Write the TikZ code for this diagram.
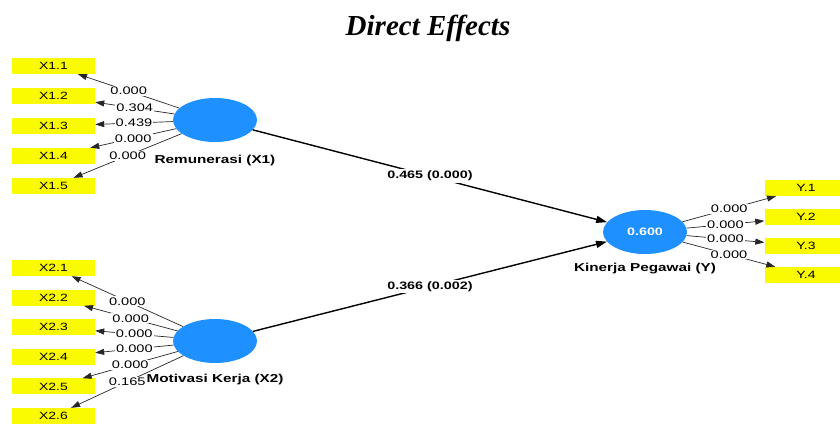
\documentclass[tikz,border=0pt]{standalone}
\usepackage{fontspec}
\usepackage{tikz}
\usetikzlibrary{arrows.meta, positioning, shapes.geometric}
\newfontfamily\plsfont[FakeStretch=1.33]{Liberation Sans}
\newfontfamily\titlefont{Liberation Serif}
\definecolor{plsblue}{RGB}{30, 144, 255}
\definecolor{plsyellow}{RGB}{250, 250, 0}

\begin{document}
\begin{tikzpicture}[x=1pt, y=-1pt]
\tikzstyle{indicator} = [rectangle, fill=plsyellow, minimum width=83pt, minimum height=16pt, inner sep=0pt, font=\plsfont\fontsize{10.5}{11}\selectfont]
\tikzstyle{latent} = [ellipse, fill=plsblue, minimum width=84pt, minimum height=44pt, inner sep=0pt]
\tikzstyle{lvname} = [font=\plsfont\bfseries\fontsize{11.5}{13}\selectfont, inner sep=1pt]
\tikzstyle{load} = [line width=0.7pt, draw=black!85, -{Triangle[length=9pt, width=6pt]}]
\tikzstyle{path} = [line width=1.4pt, -{Triangle[length=11pt, width=7pt]}]
\tikzstyle{loadval} = [fill=white, inner sep=1pt, font=\plsfont\fontsize{11}{12}\selectfont]
\tikzstyle{pathval} = [fill=white, inner sep=1.5pt, font=\plsfont\bfseries\fontsize{10.8}{12}\selectfont]

\useasboundingbox (0,0) rectangle (840,423);

% title
\node (title) at (428,28) {\titlefont\bfseries\itshape\fontsize{29}{33}\selectfont Direct Effects};

% latent variables
\node (x1) [latent, label={[lvname, label distance=12pt]below:Remunerasi (X1)}] at (215,120) {};
\node (x2) [latent, label={[lvname, label distance=10pt]below:Motivasi Kerja (X2)}] at (215,341) {};
\node (y) [latent, label={[lvname, label distance=8pt]below:Kinerja Pegawai (Y)}] at (645,232)
  {\plsfont\bfseries\fontsize{10.8}{12}\selectfont\color{white}0.600};

% indicators X1
\node (x11) [indicator] at (53.5,66) {X1.1};
\node (x12) [indicator] at (53.5,96) {X1.2};
\node (x13) [indicator] at (53.5,126) {X1.3};
\node (x14) [indicator] at (53.5,156) {X1.4};
\node (x15) [indicator] at (53.5,186) {X1.5};

% indicators X2
\node (x21) [indicator] at (53.5,268) {X2.1};
\node (x22) [indicator] at (53.5,297.6) {X2.2};
\node (x23) [indicator] at (53.5,327.2) {X2.3};
\node (x24) [indicator] at (53.5,356.8) {X2.4};
\node (x25) [indicator] at (53.5,386.4) {X2.5};
\node (x26) [indicator] at (53.5,416) {X2.6};

% indicators Y
\node (y1) [indicator] at (806,188) {Y.1};
\node (y2) [indicator] at (806,217) {Y.2};
\node (y3) [indicator] at (806,246) {Y.3};
\node (y4) [indicator] at (806,275) {Y.4};

% outer loadings
\draw [load] (x1) -- node [loadval] {0.000} (x11);
\draw [load] (x1) -- node [loadval] {0.304} (x12);
\draw [load] (x1) -- node [loadval] {0.439} (x13);
\draw [load] (x1) -- node [loadval] {0.000} (x14);
\draw [load] (x1) -- node [loadval] {0.000} (x15);

\draw [load] (x2) -- node [loadval] {0.000} (x21);
\draw [load] (x2) -- node [loadval] {0.000} (x22);
\draw [load] (x2) -- node [loadval] {0.000} (x23);
\draw [load] (x2) -- node [loadval] {0.000} (x24);
\draw [load] (x2) -- node [loadval] {0.000} (x25);
\draw [load] (x2) -- node [loadval] {0.165} (x26);

\draw [load] (y) -- node [loadval] {0.000} (y1);
\draw [load] (y) -- node [loadval] {0.000} (y2);
\draw [load] (y) -- node [loadval] {0.000} (y3);
\draw [load] (y) -- node [loadval] {0.000} (y4);

% path coefficients
\draw [path] (x1) -- node [pathval] {0.465 (0.000)} (y);
\draw [path] (x2) -- node [pathval] {0.366 (0.002)} (y);
\end{tikzpicture}
\end{document}
